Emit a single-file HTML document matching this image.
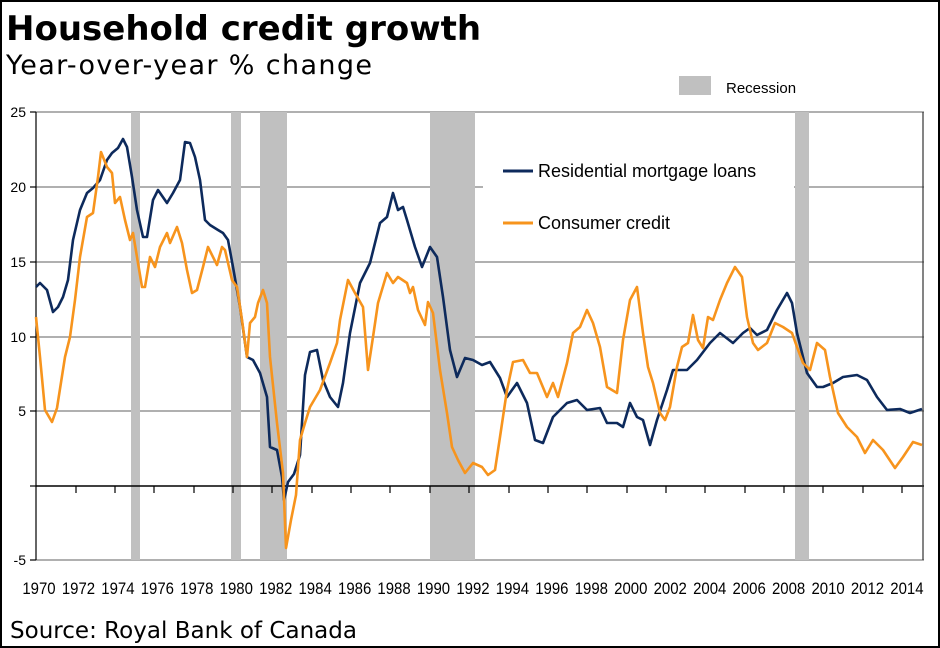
<!DOCTYPE html>
<html><head><meta charset="utf-8"><style>
html,body{margin:0;padding:0;background:#fff}
svg{display:block}
</style></head><body>
<svg width="940" height="648" viewBox="0 0 940 648" xmlns="http://www.w3.org/2000/svg" font-family="Liberation Sans, sans-serif">
<rect x="0" y="0" width="940" height="648" fill="#fff"/>
<rect x="1" y="1" width="938" height="646" fill="none" stroke="#000" stroke-width="2"/>
<text x="6" y="40" style="font-family:'DejaVu Sans',sans-serif;font-size:34px;font-weight:bold">Household credit growth</text>
<text x="6" y="74" style="font-family:'DejaVu Sans',sans-serif;font-size:27px" textLength="366">Year-over-year % change</text>
<g stroke="#808080" stroke-width="1.3">
<line x1="36" y1="112" x2="924" y2="112"/>
<line x1="36" y1="187" x2="924" y2="187"/>
<line x1="36" y1="262" x2="924" y2="262"/>
<line x1="36" y1="337" x2="924" y2="337"/>
<line x1="36" y1="411" x2="924" y2="411"/>
<line x1="36" y1="560" x2="924" y2="560"/>
</g>
<g fill="#c0c0c0">
<rect x="131" y="112" width="9" height="448"/>
<rect x="231" y="112" width="10" height="448"/>
<rect x="260" y="112" width="27" height="448"/>
<rect x="430" y="112" width="45" height="448"/>
<rect x="795" y="112" width="14" height="448"/>
</g>
<rect x="483" y="113" width="311" height="135" fill="#fff"/>
<line x1="36" y1="486" x2="924" y2="486" stroke="#000" stroke-width="1.5"/>
<line x1="36" y1="112" x2="36" y2="560" stroke="#000" stroke-width="1.2"/>
<line x1="923" y1="112" x2="923" y2="560" stroke="#333" stroke-width="1.2"/>
<g stroke="#000" stroke-width="1.2">
<line x1="30" y1="112" x2="36" y2="112"/><line x1="30" y1="187" x2="36" y2="187"/><line x1="30" y1="262" x2="36" y2="262"/><line x1="30" y1="337" x2="36" y2="337"/><line x1="30" y1="411" x2="36" y2="411"/><line x1="30" y1="486" x2="36" y2="486"/><line x1="30" y1="560" x2="36" y2="560"/>
<line x1="76" y1="486" x2="76" y2="493"/><line x1="115" y1="486" x2="115" y2="493"/><line x1="154" y1="486" x2="154" y2="493"/><line x1="194" y1="486" x2="194" y2="493"/><line x1="233" y1="486" x2="233" y2="493"/><line x1="272" y1="486" x2="272" y2="493"/><line x1="312" y1="486" x2="312" y2="493"/><line x1="351" y1="486" x2="351" y2="493"/><line x1="390" y1="486" x2="390" y2="493"/><line x1="430" y1="486" x2="430" y2="493"/><line x1="469" y1="486" x2="469" y2="493"/><line x1="509" y1="486" x2="509" y2="493"/><line x1="548" y1="486" x2="548" y2="493"/><line x1="587" y1="486" x2="587" y2="493"/><line x1="627" y1="486" x2="627" y2="493"/><line x1="666" y1="486" x2="666" y2="493"/><line x1="705" y1="486" x2="705" y2="493"/><line x1="745" y1="486" x2="745" y2="493"/><line x1="784" y1="486" x2="784" y2="493"/><line x1="823" y1="486" x2="823" y2="493"/><line x1="863" y1="486" x2="863" y2="493"/><line x1="902" y1="486" x2="902" y2="493"/>
</g>
<g font-size="14" fill="#000" text-anchor="end">
<text x="26" y="117">25</text><text x="26" y="192">20</text><text x="26" y="267">15</text><text x="26" y="342">10</text><text x="26" y="416">5</text><text x="26" y="565">-5</text>
</g>
<g font-size="17" fill="#000" text-anchor="middle" transform="translate(0,594) scale(0.88,1)">
<text x="44.3">1970</text><text x="89.2">1972</text><text x="134">1974</text><text x="178.8">1976</text><text x="223.6">1978</text><text x="268.5">1980</text><text x="313.3">1982</text><text x="358.1">1984</text><text x="403">1986</text><text x="447.8">1988</text><text x="492.6">1990</text><text x="537.5">1992</text><text x="582.3">1994</text><text x="627.1">1996</text><text x="672">1998</text><text x="716.8">2000</text><text x="761.6">2002</text><text x="806.5">2004</text><text x="851.3">2006</text><text x="896.1">2008</text><text x="941">2010</text><text x="985.8">2012</text><text x="1030.6">2014</text>
</g>
<text x="10" y="638" style="font-family:'DejaVu Sans',sans-serif;font-size:23px" textLength="347">Source: Royal Bank of Canada</text>
<rect x="679" y="76" width="32" height="19" fill="#c0c0c0"/>
<text x="726" y="93" font-size="15">Recession</text>
<line x1="503" y1="171" x2="533" y2="171" stroke="#0d2a5c" stroke-width="3"/>
<text x="538" y="177" font-size="18">Residential mortgage loans</text>
<line x1="503" y1="223" x2="533" y2="223" stroke="#f7941d" stroke-width="3"/>
<text x="538" y="229" font-size="18">Consumer credit</text>
<polyline fill="none" stroke="#0d2a5c" stroke-width="2.6" stroke-linejoin="round" points="36,287 40,283 47,290 53,312 58,307 63,297 68,280 73,240 80,210 87,193 93,188 100,180 107,160 112,153 118,148 123,139 127,147 132,177 137,210 143,237 147,237 153,200 158,190 167,203 173,193 180,180 185,142 190,143 195,157 200,180 205,220 210,225 218,230 223,233 228,240 233,267 240,307 247,357 253,360 260,373 267,397 270,447 277,450 282,477 284,500 288,482 294,474 300,455 305,375 310,352 317,350 323,380 330,397 338,407 343,383 350,333 360,283 370,263 380,223 387,217 393,193 398,210 403,207 407,220 415,247 422,267 430,247 437,257 443,297 450,350 457,377 465,358 473,360 482,365 490,362 500,378 507,397 517,383 527,403 535,440 543,443 553,417 567,403 577,400 587,410 600,408 607,423 617,423 623,427 630,403 637,417 643,420 650,445 657,420 667,390 673,370 687,370 697,360 710,343 720,333 733,343 743,333 750,328 757,335 767,330 777,310 787,293 792,303 797,333 807,373 817,387 823,387 833,383 843,377 857,375 867,380 877,397 887,410 900,409 910,413 922,409"/>
<polyline fill="none" stroke="#f7941d" stroke-width="2.6" stroke-linejoin="round" points="36,317 40,357 45,410 52,422 57,408 65,357 70,337 75,300 80,257 87,217 93,213 98,177 101,152 107,167 112,173 115,203 120,197 125,220 130,240 133,233 138,263 142,287 145,287 150,257 155,267 160,247 167,233 170,243 177,227 182,243 187,270 192,293 197,290 203,267 208,247 217,265 222,247 225,250 232,280 237,287 242,320 247,357 250,323 255,317 258,303 263,290 267,303 270,357 277,423 283,473 286,548 291,520 296,495 300,440 305,423 310,407 320,390 330,363 337,343 340,320 348,280 355,293 363,307 368,370 373,337 378,303 387,273 393,283 398,277 407,283 410,293 413,287 418,310 425,325 428,302 433,313 440,370 447,413 452,447 458,460 465,473 473,463 482,467 488,475 495,470 500,437 507,390 513,362 523,360 530,373 537,373 547,397 553,383 558,397 567,363 573,333 580,327 587,310 593,323 600,347 607,387 617,393 623,340 630,300 637,287 643,333 648,367 653,383 660,413 665,420 670,407 677,367 682,347 688,343 693,315 698,340 703,348 708,317 713,320 720,300 727,283 735,267 742,277 747,317 753,343 758,350 767,343 775,323 783,327 792,333 797,347 803,363 810,370 817,343 825,350 830,377 838,413 847,427 857,437 865,453 873,440 883,450 895,468 903,457 913,442 922,445"/>
</svg>
</body></html>
